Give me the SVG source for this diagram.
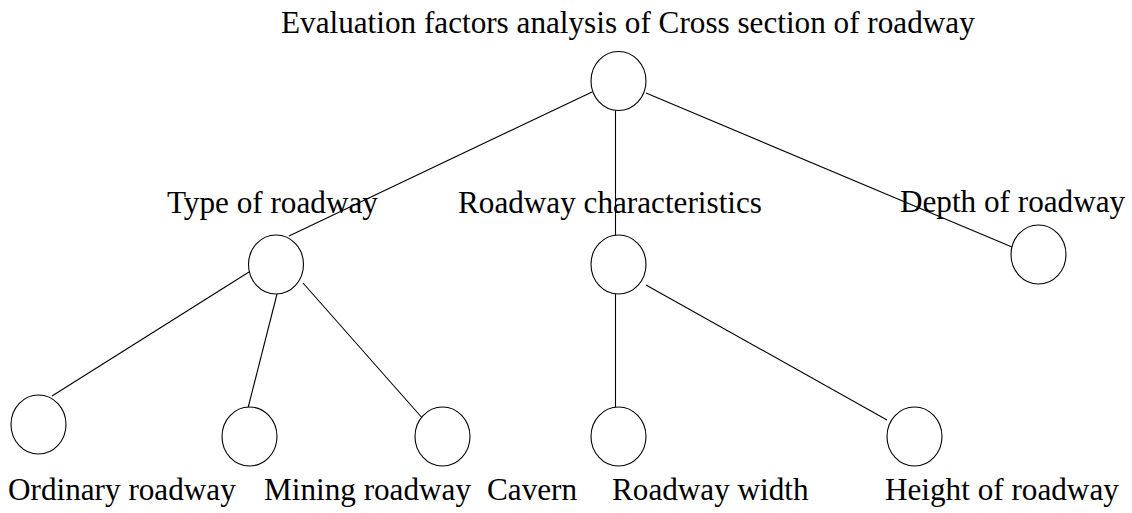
<svg xmlns="http://www.w3.org/2000/svg" width="1132" height="513" viewBox="0 0 1132 513">
  <style>
    .node { fill: #ffffff; stroke: #000000; stroke-width: 1.1; }
    .edge { stroke: #000000; stroke-width: 1.1; fill: none; }
    .label { font-family: "Liberation Serif", "Times New Roman", serif; font-size: 31.2px; fill: #000000; }
  </style>
  <rect width="1132" height="513" fill="#ffffff"/>

  <!-- connectors -->
  <g id="edges">
    <line class="edge" x1="592" y1="92" x2="289" y2="236"/>
    <line class="edge" x1="615.5" y1="110" x2="615.5" y2="237"/>
    <line class="edge" x1="646" y1="93" x2="1012" y2="247"/>
    <line class="edge" x1="249" y1="272" x2="52" y2="396"/>
    <line class="edge" x1="277" y1="294" x2="248" y2="408"/>
    <line class="edge" x1="303" y1="283" x2="424" y2="420"/>
    <line class="edge" x1="615.5" y1="294" x2="615.5" y2="407"/>
    <line class="edge" x1="646" y1="285" x2="887" y2="420"/>
  </g>

  <!-- nodes -->
  <g id="root">
    <ellipse class="node" cx="618.5" cy="81" rx="27.5" ry="29.5"/>
    <text class="label" x="281" y="33">Evaluation factors analysis of Cross section of roadway</text>
  </g>
  <g id="type-of-roadway">
    <ellipse class="node" cx="276" cy="264.5" rx="27.5" ry="29.5"/>
    <text class="label" x="167" y="213">Type of roadway</text>
  </g>
  <g id="roadway-characteristics">
    <ellipse class="node" cx="618.5" cy="264.5" rx="27.5" ry="29.5"/>
    <text class="label" x="458" y="213">Roadway characteristics</text>
  </g>
  <g id="depth-of-roadway">
    <ellipse class="node" cx="1038.5" cy="254.5" rx="27.5" ry="29.5"/>
    <text class="label" x="900" y="212">Depth of roadway</text>
  </g>
  <g id="ordinary-roadway">
    <ellipse class="node" cx="38.5" cy="424.5" rx="27.5" ry="29.5"/>
    <text class="label" x="8" y="500">Ordinary roadway</text>
  </g>
  <g id="mining-roadway">
    <ellipse class="node" cx="249.5" cy="436.5" rx="27.5" ry="29.5"/>
    <text class="label" x="264" y="500">Mining roadway</text>
  </g>
  <g id="cavern">
    <ellipse class="node" cx="442.5" cy="436.5" rx="27.5" ry="29.5"/>
    <text class="label" x="487" y="500">Cavern</text>
  </g>
  <g id="roadway-width">
    <ellipse class="node" cx="618.5" cy="436.5" rx="27.5" ry="29.5"/>
    <text class="label" x="612" y="500">Roadway width</text>
  </g>
  <g id="height-of-roadway">
    <ellipse class="node" cx="914.5" cy="436.5" rx="27.5" ry="29.5"/>
    <text class="label" x="885" y="500">Height of roadway</text>
  </g>
</svg>
